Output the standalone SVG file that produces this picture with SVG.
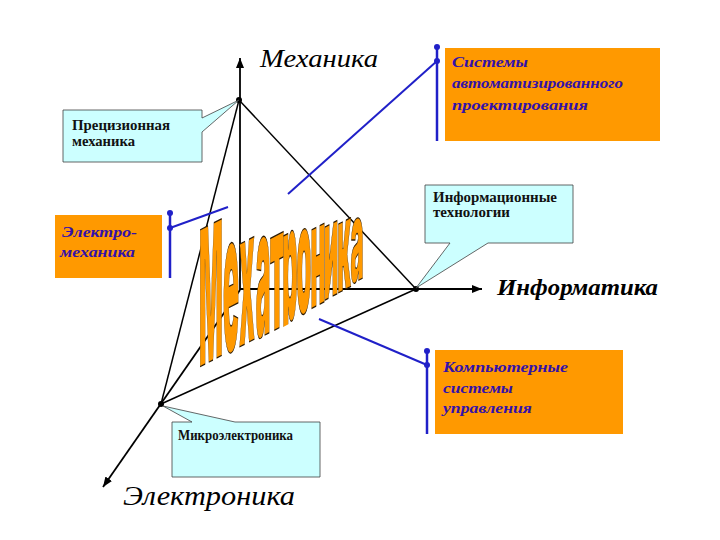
<svg xmlns="http://www.w3.org/2000/svg" width="720" height="540" viewBox="0 0 720 540">
<defs>
<marker id="arr" viewBox="0 0 10 8" refX="10" refY="4" markerWidth="10" markerHeight="8" markerUnits="userSpaceOnUse" orient="auto"><path d="M0,0 L10,4 L0,8 Z" fill="#000"/></marker>
<clipPath id="waclip"><polygon points="180,150 400,150 400,266 180,381"/></clipPath>
<style>
.axis{stroke:#000;stroke-width:1.8;fill:none}
.edge{stroke:#000;stroke-width:1.5;fill:none}
.blue{stroke:#2020c8;stroke-width:2;fill:none}
.bar{stroke:#2020c8;stroke-width:2.5}
.bdot{fill:#2020c8}
.kdot{fill:#000}
.orange{fill:#ff9900}
.cyan{fill:#ccffff;stroke:#404040;stroke-width:0.8}
.ot{font-family:"Liberation Serif",serif;font-style:italic;font-weight:bold;font-size:15px;fill:#3311aa}
.ct{font-family:"Liberation Serif",serif;font-weight:bold;font-size:14px;fill:#111}
.ax{font-family:"Liberation Serif",serif;font-style:italic;fill:#000}
.wa{font-family:Inter,Roboto,"DejaVu Sans",sans-serif;font-weight:900;font-size:20px;fill:#ff9900;stroke:#2a1a05;stroke-width:1;text-anchor:middle}
</style>
</defs>
<rect width="720" height="540" fill="#fff"/>

<g id="connectors">
  <line class="axis" x1="240" y1="290" x2="240" y2="58" marker-end="url(#arr)"/>
  <line class="axis" x1="240" y1="289" x2="482" y2="289" marker-end="url(#arr)"/>
  <line class="axis" x1="240" y1="290" x2="103" y2="487" marker-end="url(#arr)"/>
  <line class="edge" x1="239" y1="100" x2="416" y2="289"/>
  <line class="edge" x1="416" y1="289" x2="161" y2="404"/>
  <line class="edge" x1="161" y1="404" x2="239" y2="100"/>
  <circle class="kdot" cx="239" cy="100" r="3"/>
  <circle class="kdot" cx="416" cy="289" r="3"/>
  <circle class="kdot" cx="161" cy="404" r="3"/>
  <line class="blue" x1="288" y1="194" x2="437" y2="61"/>
  <line class="blue" x1="170" y1="228" x2="228" y2="207"/>
  <line class="blue" x1="319" y1="319" x2="427" y2="365"/>
</g>

<g id="n-mechanics"><text class="ax" x="260" y="67" font-size="26" textLength="118" lengthAdjust="spacingAndGlyphs">Механика</text></g>
<g id="n-informatics"><text class="ax" x="497" y="295" font-size="23" font-weight="bold" textLength="161" lengthAdjust="spacingAndGlyphs">Информатика</text></g>
<g id="n-electronics"><text class="ax" x="123" y="505" font-size="27" textLength="172" lengthAdjust="spacingAndGlyphs">Электроника</text></g>

<g id="n-precision">
  <path class="cyan" d="M63,110 H202 V118 L239,100 L202,132 V162 H63 Z"/>
  <text class="ct" x="72" y="130" textLength="98" lengthAdjust="spacingAndGlyphs">Прецизионная</text>
  <text class="ct" x="72" y="146" textLength="63" lengthAdjust="spacingAndGlyphs">механика</text>
</g>
<g id="n-infotech">
  <path class="cyan" d="M425,185 H573 V243 H488 L416,288 L450,243 H425 Z"/>
  <text class="ct" x="433" y="202" font-size="13.5" textLength="124" lengthAdjust="spacingAndGlyphs">Информационные</text>
  <text class="ct" x="433" y="217" font-size="13.5" textLength="77" lengthAdjust="spacingAndGlyphs">технологии</text>
</g>
<g id="n-microel">
  <path class="cyan" d="M172,422 H192 L163,406 L235,422 H320 V477 H172 Z"/>
  <text class="ct" x="178" y="440" font-size="12.5" textLength="115" lengthAdjust="spacingAndGlyphs">Микроэлектроника</text>
</g>

<g id="n-cad">
  <rect class="orange" x="445" y="48" width="215" height="93"/>
  <line class="bar" x1="437" y1="47" x2="437" y2="141"/>
  <circle class="bdot" cx="437" cy="47" r="3"/>
  <circle class="bdot" cx="437" cy="61" r="3"/>
  <text class="ot" x="452" y="67" textLength="76" lengthAdjust="spacingAndGlyphs">Системы</text>
  <text class="ot" x="452" y="88" textLength="171" lengthAdjust="spacingAndGlyphs">автоматизированного</text>
  <text class="ot" x="452" y="110" textLength="136" lengthAdjust="spacingAndGlyphs">проектирования</text>
</g>
<g id="n-electromech">
  <rect class="orange" x="55" y="215" width="107" height="63"/>
  <line class="bar" x1="170" y1="213" x2="170" y2="278"/>
  <circle class="bdot" cx="170" cy="213" r="3"/>
  <circle class="bdot" cx="170" cy="228" r="3"/>
  <text class="ot" x="62" y="237" font-size="19" textLength="75" lengthAdjust="spacingAndGlyphs">Электро-</text>
  <text class="ot" x="60" y="257" font-size="19" textLength="75" lengthAdjust="spacingAndGlyphs">механика</text>
</g>
<g id="n-ccs">
  <rect class="orange" x="435" y="350" width="188" height="84"/>
  <line class="bar" x1="427" y1="351" x2="427" y2="434"/>
  <circle class="bdot" cx="427" cy="351" r="3"/>
  <circle class="bdot" cx="427" cy="365" r="3"/>
  <text class="ot" x="443" y="372" textLength="125" lengthAdjust="spacingAndGlyphs">Компьютерные</text>
  <text class="ot" x="443" y="393" textLength="70" lengthAdjust="spacingAndGlyphs">системы</text>
  <text class="ot" x="443" y="413" textLength="89" lengthAdjust="spacingAndGlyphs">управления</text>
</g>

<g id="n-mechatronics" clip-path="url(#waclip)">
  <text class="wa" vector-effect="non-scaling-stroke" transform="matrix(1.25,-0.65,0,9.4,211,361)">М</text>
  <text class="wa" vector-effect="non-scaling-stroke" transform="matrix(1.32,-0.686,0,9.8,231,351)">е</text>
  <text class="wa" vector-effect="non-scaling-stroke" transform="matrix(1.26,-0.655,0,9.4,247,343)">х</text>
  <text class="wa" vector-effect="non-scaling-stroke" transform="matrix(1.23,-0.64,0,9.0,263,336)">а</text>
  <text class="wa" vector-effect="non-scaling-stroke" transform="matrix(1.26,-0.655,0,8.6,277,329)">т</text>
  <text class="wa" vector-effect="non-scaling-stroke" transform="matrix(1.19,-0.62,0,8.1,290,321)">р</text>
  <text class="wa" vector-effect="non-scaling-stroke" transform="matrix(1.19,-0.62,0,7.6,304,313)">о</text>
  <text class="wa" vector-effect="non-scaling-stroke" transform="matrix(1.15,-0.6,0,7.2,318,305)">н</text>
  <text class="wa" vector-effect="non-scaling-stroke" transform="matrix(1.12,-0.582,0,6.7,331,297)">и</text>
  <text class="wa" vector-effect="non-scaling-stroke" transform="matrix(1.1,-0.572,0,6.3,344,290)">к</text>
  <text class="wa" vector-effect="non-scaling-stroke" transform="matrix(1.1,-0.572,0,5.7,357,281)">а</text>
</g>
</svg>
